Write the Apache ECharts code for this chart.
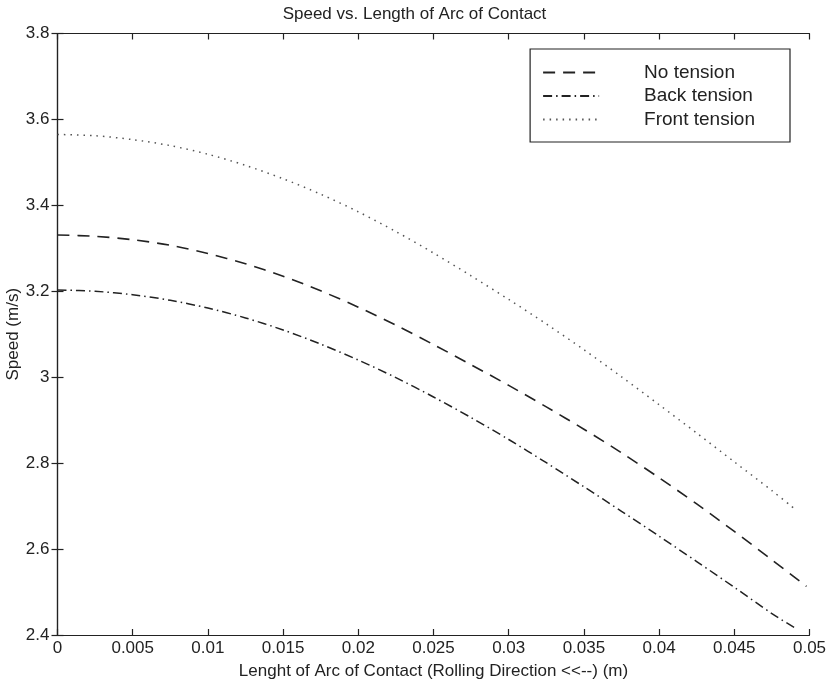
<!DOCTYPE html>
<html>
<head>
<meta charset="utf-8">
<script src="https://cdn.jsdelivr.net/npm/echarts@6/dist/echarts.min.js"></script>
<style>
  html, body { margin: 0; padding: 0; background: #fff; }
  #chart { width: 829px; height: 689px; }
</style>
</head>
<body>
<div id="chart"></div>
<script>
// Arc-of-contact positions (m)
const arcPos = [0, 0.0025, 0.005, 0.0075, 0.01, 0.0125, 0.015, 0.0175, 0.02, 0.0225,
                0.025, 0.0275, 0.03, 0.0325, 0.035, 0.0375, 0.04, 0.0425, 0.045, 0.0475, 0.049];
const arcPosNoTension = [0, 0.0025, 0.005, 0.0075, 0.01, 0.0125, 0.015, 0.0175, 0.02, 0.0225,
                0.025, 0.0275, 0.03, 0.0325, 0.035, 0.0375, 0.04, 0.0425, 0.045, 0.0475, 0.0498];

// Speed (m/s)
const noTension    = [3.331, 3.328, 3.320, 3.307, 3.288, 3.264, 3.235, 3.201, 3.163, 3.121,
                      3.076, 3.029, 2.981, 2.931, 2.879, 2.824, 2.766, 2.705, 2.641, 2.575, 2.513];
const backTension  = [3.203, 3.200, 3.192, 3.179, 3.161, 3.138, 3.110, 3.077, 3.040, 2.999,
                      2.954, 2.906, 2.855, 2.801, 2.745, 2.688, 2.630, 2.571, 2.511, 2.450, 2.417];
const frontTension = [3.565, 3.562, 3.553, 3.539, 3.519, 3.493, 3.462, 3.426, 3.385, 3.339,
                      3.289, 3.236, 3.181, 3.124, 3.064, 3.001, 2.936, 2.870, 2.803, 2.736, 2.694];

const seriesNames = ['No tension', 'Back tension', 'Front tension'];

const pairs = (xs, ys) => xs.map((x, i) => [x, ys[i]]);

const FONT = "'Liberation Sans Narrow', 'Liberation Sans', Arial, sans-serif";
const INK = '#222';
const axisLineStyle = { color: INK, width: 1.2 };

const chart = echarts.init(document.getElementById('chart'));
chart.setOption({
  backgroundColor: '#fff',
  animation: false,
  title: {
    text: 'Speed vs. Length of Arc of Contact',
    left: 'center', top: 1,
    textStyle: { fontFamily: FONT, fontSize: 17, fontWeight: 'normal', color: INK }
  },
  legend: {
    data: seriesNames,
    orient: 'vertical',
    right: 39, top: 49,
    padding: [14, 35, 13, 12],
    backgroundColor: '#fff',
    borderColor: INK, borderWidth: 1.2, borderRadius: 0,
    itemWidth: 56, itemHeight: 14, itemGap: 4.5,
    // line samples only, no marker in the middle
    itemStyle: { color: 'transparent', borderColor: 'transparent', borderWidth: 0, opacity: 0 },
    textStyle: { fontFamily: "'Liberation Sans', Arial, sans-serif", fontSize: 19, color: INK,
                 padding: [0, 0, 0, 40] }
  },
  grid: { left: 57.5, right: 19.5, top: 33.5, bottom: 54, containLabel: false, outerBoundsMode: 'none' },
  xAxis: [{
    type: 'value', min: 0, max: 0.05, interval: 0.005, position: 'bottom',
    name: 'Lenght of Arc of Contact (Rolling Direction <<--) (m)',
    nameLocation: 'middle', nameGap: 28, nameMoveOverlap: false,
    nameTextStyle: { fontFamily: FONT, fontSize: 17, color: INK },
    axisLine: { lineStyle: axisLineStyle },
    axisTick: { inside: true, length: 6, lineStyle: axisLineStyle },
    axisLabel: { fontFamily: FONT, fontSize: 17, color: INK, margin: 5,
                 formatter: v => String(+v.toFixed(3)) },
    splitLine: { show: false }
  }, {
    type: 'value', min: 0, max: 0.05, interval: 0.005, position: 'top',
    axisLine: { lineStyle: axisLineStyle },
    axisTick: { inside: true, length: 6, lineStyle: axisLineStyle },
    axisLabel: { show: false }, splitLine: { show: false }
  }],
  yAxis: [{
    type: 'value', min: 2.4, max: 3.8, interval: 0.2, position: 'left',
    name: 'Speed (m/s)', nameLocation: 'middle', nameGap: 36, nameMoveOverlap: false,
    nameTextStyle: { fontFamily: FONT, fontSize: 17, color: INK },
    axisLine: { show: true, lineStyle: axisLineStyle },
    axisTick: { show: true, inside: true, length: 6, lineStyle: axisLineStyle },
    axisLabel: { fontFamily: FONT, fontSize: 17, color: INK, margin: 8,
                 formatter: v => String(+v.toFixed(1)) },
    splitLine: { show: false }
  }, {
    type: 'value', min: 2.4, max: 3.8, interval: 0.2, position: 'right',
    axisLine: { show: true, lineStyle: axisLineStyle },
    axisTick: { show: true, inside: true, length: 6, lineStyle: axisLineStyle },
    axisLabel: { show: false }, splitLine: { show: false }
  }],
  series: [{
    name: seriesNames[0], type: 'line', smooth: 0.3, symbol: 'none',
    data: pairs(arcPosNoTension, noTension),
    lineStyle: { color: INK, width: 1.6, type: [12, 8] },
    itemStyle: { color: INK }
  }, {
    name: seriesNames[1], type: 'line', smooth: 0.3, symbol: 'none',
    data: pairs(arcPos, backTension),
    lineStyle: { color: INK, width: 1.5, type: [9, 4, 1.5, 4] },
    itemStyle: { color: INK }
  }, {
    name: seriesNames[2], type: 'line', smooth: 0.3, symbol: 'none',
    data: pairs(arcPos, frontTension),
    lineStyle: { color: '#555', width: 1.5, type: [1.5, 5] },
    itemStyle: { color: '#555' }
  }]
});
</script>
</body>
</html>
